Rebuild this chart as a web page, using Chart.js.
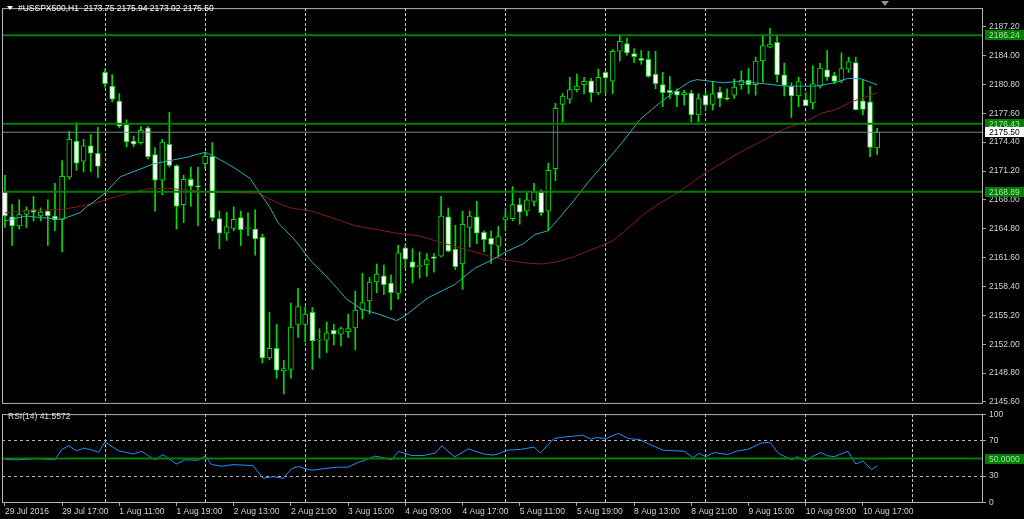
<!DOCTYPE html>
<html>
<head>
<meta charset="utf-8">
<title>#USSPX500,H1</title>
<script src="https://cdn.jsdelivr.net/npm/chart.js@4.4.1/dist/chart.umd.min.js"></script>
<style>
  html, body { margin:0; padding:0; background:#000; }
  #wrap { position:relative; width:1024px; height:519px; overflow:hidden; background:#000;
          font-family:'Liberation Sans', Arial, sans-serif; }
  canvas { position:absolute; left:0; }
  #cMain { top:0; }
  #cRsi { top:406px; }
  .txt { position:absolute; color:#fff; font-size:8.5px; white-space:pre; line-height:10px; }
  .tri { position:absolute; width:0; height:0; border-left:3px solid transparent; border-right:3px solid transparent; }
</style>
</head>
<body>
<div id="wrap">
  <canvas id="cMain" width="1024" height="412"></canvas>
  <canvas id="cRsi" width="1024" height="113"></canvas>
  <div class="tri" style="left:7px;top:6px;border-top:4px solid #fff"></div>
  <div class="txt" style="left:18px;top:3px">#USSPX500,H1  2173.75 2175.94 2173.02 2175.50</div>
  <div class="txt" style="left:8px;top:411px;color:#dcdcdc">RSI(14) 41.5572</div>
  <div class="tri" style="left:881px;top:1px;border-left-width:4px;border-right-width:4px;border-top:5px solid #8c96a0"></div>
</div>
<script>
/* ---- data (bar index = hourly bar, 0 = 29 Jul 09:00) ---- */
const timeLabels = ['29 Jul 2016','29 Jul 17:00','1 Aug 11:00','1 Aug 19:00','2 Aug 13:00','2 Aug 21:00',
  '3 Aug 15:00','4 Aug 09:00','4 Aug 17:00','5 Aug 11:00','5 Aug 19:00','8 Aug 13:00','8 Aug 21:00',
  '9 Aug 15:00','10 Aug 09:00','10 Aug 17:00'];
const labelBars = [0,8,16,24,32,40,48,56,64,72,80,88,96,104,112,120];
const dayBars = [14,28,42,56,70,84,98,112,127];
const priceTicks = [2145.6,2148.8,2152.0,2155.2,2158.4,2161.6,2164.8,2168.0,2171.2,2174.4,2177.6,2180.8,2184.0,2187.2];
const rsiTicks = [0,30,70,100];

const opens = [2168.92,2166.13,2165.12,2166.38,2166.93,2166.21,2166.75,2166.21,2165.84,2170.55,
  2174.53,2172.29,2173.98,2173.16,2182.13,2180.61,2178.95,2176.34,2174.53,2174.35,
  2175.98,2173.01,2170.18,2174.17,2171.81,2167.47,2170.29,2169.53,2172.00,2172.83,
  2165.92,2164.32,2164.83,2166.03,2164.83,2164.76,2163.85,2150.47,2151.55,2149.05,
  2149.19,2154.19,2154.19,2155.53,2152.45,2152.45,2153.54,2153.10,2153.35,2153.79,
  2155.79,2156.80,2158.89,2159.59,2158.78,2157.63,2162.69,2161.14,2160.60,2160.78,
  2161.68,2161.76,2166.13,2162.52,2160.89,2164.94,2166.13,2164.40,2163.74,2162.88,
  2165.78,2165.92,2167.47,2166.75,2167.84,2168.85,2166.75,2171.45,2178.59,2179.16,
  2180.22,2180.76,2181.19,2179.85,2182.13,2181.15,2184.48,2185.32,2184.23,2183.69,
  2183.58,2181.95,2180.79,2180.14,2180.06,2179.67,2179.85,2177.43,2179.60,2178.59,
  2179.96,2179.31,2179.60,2180.76,2181.26,2180.76,2183.40,2184.92,2185.46,2181.85,
  2180.58,2179.52,2179.13,2178.76,2180.61,2182.42,2181.77,2181.23,2182.50,2183.21,
  2178.98,2178.87,2173.75];
const highs = [2170.73,2167.47,2168.01,2167.22,2168.38,2167.11,2168.01,2169.83,2172.36,2175.61,
  2176.53,2174.71,2175.25,2176.05,2182.50,2181.88,2179.78,2176.88,2175.07,2176.16,
  2176.16,2173.81,2174.71,2177.68,2171.90,2170.73,2171.64,2171.64,2173.27,2174.35,
  2166.75,2166.64,2167.22,2166.75,2166.57,2166.90,2164.21,2155.53,2154.19,2150.21,
  2156.55,2158.18,2156.14,2156.07,2153.72,2154.44,2154.19,2153.90,2155.35,2157.88,
  2159.87,2159.40,2160.89,2160.78,2159.70,2162.95,2163.02,2162.58,2162.23,2162.04,
  2162.04,2168.38,2167.11,2165.19,2166.75,2166.75,2167.84,2164.58,2164.58,2165.05,
  2166.93,2169.47,2168.20,2168.92,2169.83,2169.10,2172.07,2178.70,2179.78,2181.59,
  2181.95,2181.59,2181.48,2182.50,2182.31,2184.67,2186.30,2185.93,2184.78,2184.56,
  2184.48,2184.48,2182.13,2181.66,2180.32,2180.14,2180.14,2179.78,2180.03,2181.12,
  2180.50,2180.32,2181.41,2182.31,2182.56,2183.83,2186.30,2187.01,2186.30,2183.15,
  2180.98,2181.59,2179.89,2182.86,2183.15,2184.59,2182.13,2184.30,2183.83,2183.83,
  2181.33,2180.58,2175.94];
const lows = [2164.94,2162.95,2164.76,2164.94,2165.67,2165.67,2162.95,2164.58,2162.22,2170.29,
  2171.27,2171.10,2171.10,2170.48,2180.50,2178.87,2175.98,2173.88,2173.88,2174.17,
  2172.54,2166.75,2168.56,2171.64,2164.76,2165.48,2167.30,2165.12,2171.45,2165.67,
  2162.58,2163.50,2164.58,2162.95,2164.04,2161.87,2149.92,2150.28,2148.22,2146.48,
  2148.22,2152.75,2152.27,2149.19,2150.47,2151.07,2151.91,2151.80,2152.75,2151.37,
  2154.81,2155.35,2157.70,2157.52,2155.79,2156.98,2160.41,2158.78,2159.33,2159.51,
  2159.98,2161.68,2162.23,2160.27,2158.07,2162.77,2163.13,2162.23,2160.95,2161.68,
  2164.76,2165.67,2165.30,2166.21,2167.30,2166.28,2164.58,2170.12,2176.63,2178.70,
  2179.96,2179.78,2178.87,2179.67,2179.78,2179.78,2183.40,2184.02,2183.21,2183.04,
  2181.59,2180.32,2178.33,2179.24,2178.33,2178.51,2176.63,2176.63,2177.97,2177.97,
  2178.33,2179.05,2179.24,2180.25,2179.78,2179.60,2181.04,2184.84,2181.04,2179.52,
  2177.13,2178.33,2178.40,2178.08,2180.39,2181.23,2180.87,2180.98,2182.13,2177.97,
  2177.43,2172.79,2173.02];
const closes = [2166.21,2165.12,2166.38,2166.86,2166.64,2166.64,2166.21,2165.78,2170.62,2174.71,
  2172.07,2173.98,2173.19,2171.70,2180.87,2179.16,2176.16,2174.42,2174.17,2175.72,
  2172.79,2170.18,2174.42,2171.81,2167.30,2170.29,2169.53,2169.45,2172.83,2166.03,
  2164.32,2165.05,2165.84,2164.69,2164.83,2163.67,2150.47,2151.55,2149.12,2149.30,
  2153.90,2156.18,2155.35,2152.35,2152.45,2153.25,2153.10,2153.72,2153.72,2155.79,
  2156.61,2158.89,2159.76,2158.61,2157.70,2162.12,2161.43,2160.52,2160.60,2161.39,
  2161.50,2166.21,2162.30,2160.60,2165.30,2166.21,2164.32,2163.60,2163.06,2163.93,
  2166.13,2167.47,2166.64,2168.01,2168.85,2166.57,2171.27,2178.15,2179.52,2180.22,
  2180.61,2181.15,2179.89,2181.59,2181.52,2184.48,2185.57,2184.30,2183.87,2183.47,
  2181.69,2180.87,2179.89,2179.89,2179.60,2179.89,2177.43,2179.24,2178.51,2179.78,
  2179.24,2179.16,2180.50,2181.26,2180.76,2183.40,2185.10,2185.28,2181.85,2180.68,
  2179.52,2181.12,2178.44,2180.87,2182.61,2181.59,2181.12,2182.56,2183.32,2177.97,
  2178.04,2173.81,2175.50];

// fast MA (cyan) and slow MA (dark red), sampled where the lines bend
const maFastBar = [0,3,5.1,7.9,10.5,11.4,11.9,14,16.1,20.8,25.4,28,29.1,31.9,34.3,35.2,37.1,38.2,40.6,42.9,
  45.2,47.8,49.9,52.2,54.8,56,59.2,62.9,65.7,68.5,70.2,72.5,74.1,76,79.3,81.8,84.2,86.5,88.8,91.2,
  93.5,95.8,96.8,100.5,102.3,106.3,109.1,113.3,116.1,117.9,119.8,122];
const maFastVal = [2165.67,2166.21,2166.03,2165.84,2166.57,2167.22,2167.47,2168.74,2170.55,2171.99,
  2172.72,2173.27,2172.90,2171.64,2170.37,2169.28,2167.11,2165.48,2163.50,2161.14,
  2159.33,2156.98,2155.89,2155.35,2154.62,2155.17,2157.15,2158.61,2160.41,2161.50,
  2162.30,2163.13,2164.15,2164.58,2167.65,2170.18,2172.36,2174.53,2176.88,2178.51,
  2179.89,2181.12,2181.33,2180.98,2181.12,2180.87,2180.61,2180.61,2180.98,2181.48,2181.41,2180.76];
const maSlowBar = [0,4,7.9,10.1,12.6,15.6,19.8,22.6,25.4,27.7,30.3,35.4,38.2,39.9,42.9,45.7,49,52.2,54.6,57.8,
  61.6,65.7,68.1,70.2,72.5,75.1,77.2,79.5,81.8,83.9,85.1,87,89.3,91.6,94,98.2,102.8,106.8,109.1,112.1,
  114.2,116.1,118.4,120.8,122];
const maSlowVal = [2166.57,2166.86,2166.93,2167.22,2167.65,2168.38,2169.21,2169.28,2169.10,2168.92,
  2168.82,2168.74,2167.65,2167.11,2166.75,2166.03,2165.12,2164.69,2164.32,2164.04,
  2163.13,2162.23,2161.68,2161.32,2161.03,2160.89,2161.14,2161.68,2162.41,2163.06,
  2163.50,2164.76,2166.38,2167.65,2168.74,2171.10,2173.27,2174.90,2175.91,2176.70,
  2177.61,2177.97,2178.87,2179.52,2179.85];

const rsiBar = [0,1.7,4.5,7,7.9,8.9,10,11,12.1,13.1,14,15.9,18,19.1,21,22.1,24,25.2,27,28,
  28.9,30.3,31.9,34.7,36.1,37.5,38.9,40.1,41,42.9,44.5,46.4,48,49.4,50.6,51.8,52.5,54.1,55,56.9,
  58.5,60.2,61.1,62.9,64.8,66.9,68.3,69.2,70.2,72.1,74,74.9,76.8,77.7,80.8,82,82.7,84.1,85.8,87.2,
  88.8,90.3,92.1,95,96.2,97.1,98,99.2,101.1,102.3,103.9,105.8,107,108.2,109.6,110.1,110.8,112,112.9,114.1,
  115,116,117.9,119,120,121.2,122];
const rsiVal = [49.1,48.5,50.0,48.5,59.9,64.6,58.8,61.7,59.9,57.1,68.9,58.8,55.3,58.2,48.5,54.5,43.8,48.5,48.1,52.8,
  43.1,41.3,43.1,42.0,27.6,29.5,27.6,38.4,41.0,36.7,38.4,40.2,40.2,45.6,49.1,52.8,51.7,48.5,58.2,53.4,
  53.4,56.3,64.6,51.7,61.0,55.3,53.9,56.0,59.4,60.4,63.0,56.5,72.8,73.9,76.5,72.0,73.9,72.8,78.6,72.8,
  71.4,65.6,59.4,58.3,51.1,55.8,52.2,56.9,54.6,58.3,60.4,67.7,68.5,55.8,50.3,48.5,52.2,46.7,52.2,56.9,
  53.2,52.2,58.3,43.8,47.4,37.6,41.56];

const levels = [2186.24, 2176.43, 2168.89];
const bid = 2175.50;
const rsiLevel = 50;

/* ---- look ---- */
const X_MIN = -0.41, X_MAX = 136.8;
const GREEN = '#00dd00', LVL = '#008000', FRAME = '#b4b4b4', GRID = '#c8c8c8', TXT = '#d2d2d2';
const FONT = "'Liberation Sans', Arial, sans-serif";
Chart.defaults.font.family = FONT;
Chart.defaults.font.size = 8.5;

const pts = (xs, ys) => xs.map((x, i) => ({x, y: ys[i]}));
const hline = v => [{x: X_MIN, y: v}, {x: X_MAX, y: v}];
const fixW = s => { s.width = 41; };
const noH = s => { s.height = 0; };
const setTicks = vals => s => { s.ticks = vals.map(v => ({value: v})); };

const framePlugin = {
  id: 'frame',
  afterDraw(chart){
    const {ctx, chartArea: a} = chart;
    ctx.save();
    ctx.strokeStyle = FRAME; ctx.lineWidth = 1;
    ctx.strokeRect(a.left + 0.5, a.top + 0.5, a.right - a.left - 1, a.bottom - a.top - 1);
    ctx.restore();
  }
};
// coloured price tags on the right axis
const tagPlugin = tags => ({
  id: 'tags',
  afterDraw(chart){
    const {ctx, chartArea: a, scales: {y}} = chart;
    ctx.save();
    ctx.font = '8.5px ' + FONT; ctx.textBaseline = 'middle';
    tags.forEach(t => {
      const py = Math.round(y.getPixelForValue(t.v));
      ctx.fillStyle = t.bg; ctx.fillRect(a.right + 2, py - 5, 1024 - a.right - 2, 10);
      ctx.fillStyle = t.fg; ctx.fillText(t.text, a.right + 6, py + 0.5);
    });
    ctx.restore();
  }
});

/* ---- main price chart ---- */
const bars = opens.map((_, i) => i);
new Chart(document.getElementById('cMain'), {
  type: 'bar',
  data: { datasets: [
    ...levels.map(v => ({type:'line', data: hline(v), borderColor: LVL, borderWidth: 2, pointRadius: 0, order: 1})),
    {type:'line', data: hline(bid), borderColor: '#7c8490', borderWidth: 1, pointRadius: 0, order: 1},
    {type:'line', data: pts(maFastBar, maFastVal), borderColor: '#26b0bd', borderWidth: 1, pointRadius: 0, order: 2},
    {type:'line', data: pts(maSlowBar, maSlowVal), borderColor: '#8b1a1a', borderWidth: 1, pointRadius: 0, order: 2},
    {data: bars.map(i => ({x: i, y: [opens[i], closes[i]]})),
      backgroundColor: c => closes[c.dataIndex] < opens[c.dataIndex] ? '#ffffff' : '#000000',
      borderColor: GREEN, borderWidth: 1, borderSkipped: false, barThickness: 5, minBarLength: 1, order: 3},
    {data: bars.map(i => ({x: i, y: [lows[i], highs[i]]})),
      backgroundColor: GREEN, barThickness: 1, order: 4}
  ]},
  options: {
    responsive: false, animation: false,
    datasets: { bar: { grouped: false } },
    layout: { padding: {left: 2, top: 1, right: 0, bottom: 7} },
    plugins: { legend: {display: false}, tooltip: {enabled: false} },
    scales: {
      x: { type: 'linear', min: X_MIN, max: X_MAX, offset: false,
           afterBuildTicks: setTicks(dayBars), afterFit: noH,
           ticks: {display: false},
           grid: {color: GRID, drawTicks: false, offset: false},
           border: {display: false, dash: [3, 2]} },
      y: { position: 'right', min: 2145.38, max: 2189.26,
           afterBuildTicks: setTicks(priceTicks), afterFit: fixW,
           ticks: {color: TXT, padding: 3, callback: v => v.toFixed(2)},
           grid: {drawOnChartArea: false, drawTicks: true, tickLength: 3, tickColor: '#a0a0a0'},
           border: {display: false} }
    }
  },
  plugins: [framePlugin, tagPlugin([
    ...levels.map(v => ({v, text: v.toFixed(2), bg: LVL, fg: '#b8d8b8'})),
    {v: bid, text: bid.toFixed(2), bg: '#ffffff', fg: '#000000'}
  ])]
});

/* ---- RSI panel ---- */
new Chart(document.getElementById('cRsi'), {
  type: 'line',
  data: { datasets: [
    {data: hline(rsiLevel), borderColor: LVL, borderWidth: 2, pointRadius: 0},
    {data: pts(rsiBar, rsiVal), borderColor: '#1e90ff', borderWidth: 1, pointRadius: 0}
  ]},
  options: {
    responsive: false, animation: false,
    layout: { padding: {left: 2, top: 2, right: 0, bottom: 0} },
    plugins: { legend: {display: false}, tooltip: {enabled: false} },
    scales: {
      x: { type: 'linear', position: 'bottom', min: X_MIN, max: X_MAX,
           afterBuildTicks: setTicks(labelBars), afterFit: s => { s.height = 16; },
           ticks: {color: TXT, align: 'start', autoSkip: false, maxRotation: 0, minRotation: 0, padding: 1,
                   callback: (v, i) => timeLabels[i]},
           grid: {drawOnChartArea: false, drawTicks: true, tickLength: 3, tickColor: '#a0a0a0'},
           border: {display: false} },
      xg: { type: 'linear', position: 'bottom', min: X_MIN, max: X_MAX,
           afterBuildTicks: setTicks(dayBars), afterFit: noH,
           ticks: {display: false},
           grid: {color: GRID, drawTicks: false},
           border: {display: false, dash: [3, 2]} },
      y: { position: 'right', min: -0.5, max: 100.5,
           afterBuildTicks: setTicks(rsiTicks), afterFit: fixW,
           ticks: {color: TXT, padding: 3},
           grid: {color: c => (c.tick && (c.tick.value === 30 || c.tick.value === 70)) ? '#b4b4b4' : 'rgba(0,0,0,0)',
                  drawTicks: true, tickLength: 3, tickColor: '#a0a0a0'},
           border: {display: false, dash: [3, 3]} }
    }
  },
  plugins: [framePlugin, tagPlugin([{v: rsiLevel, text: '50.0000', bg: LVL, fg: '#b8d8b8'}])]
});
</script>
</body>
</html>
